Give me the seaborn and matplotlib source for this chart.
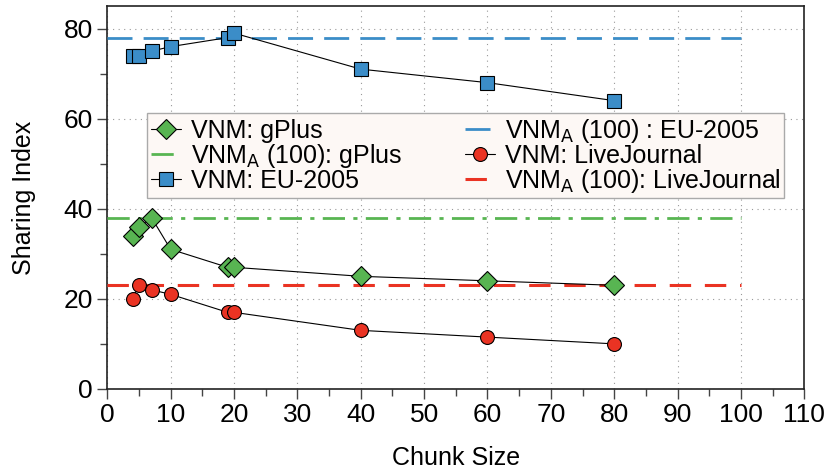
import pandas as pd
import matplotlib
matplotlib.use("Agg")
import matplotlib.pyplot as plt
import seaborn as sns
from matplotlib.ticker import MultipleLocator

chunk = [4, 5, 7, 10, 19, 20, 40, 60, 80]
gplus = [34, 36, 38, 31, 27, 27, 25, 24, 23]
eu2005 = [74, 74, 75, 76, 78, 79, 71, 68, 64]
livejournal = [20, 23, 22, 21, 17, 17, 13, 11.5, 10]

vnma_x = [0, 100]
vnma_gplus = 38
vnma_eu = 78
vnma_lj = 23

green = "#58b552"
blue = "#3b8dc8"
red = "#ea3323"

sns.set_style("ticks")
plt.rcParams['font.family'] = ['Liberation Sans', 'DejaVu Sans']
plt.rcParams['text.color'] = 'black'
plt.rcParams['axes.labelcolor'] = 'black'

df = pd.DataFrame({'chunk': chunk, 'gplus': gplus, 'eu': eu2005, 'lj': livejournal})

fig, ax = plt.subplots(figsize=(8.25, 4.68), dpi=100)
fig.subplots_adjust(left=0.13, right=0.975, top=0.987, bottom=0.169)

ax.grid(True, which='major', linestyle=(0, (1, 4)), color='#999999', linewidth=0.8)

sns.lineplot(data=df, x='chunk', y='gplus', ax=ax, color='black', lw=0.8,
             marker='D', markersize=10, markerfacecolor=green, markeredgecolor='black',
             markeredgewidth=0.8, label='VNM: gPlus', zorder=4)
ax.plot(vnma_x, [vnma_gplus] * 2, color=green, lw=2, ls=(0, (8, 3, 1.5, 3)),
        label=r'VNM$_{\mathrm{A}}$ (100): gPlus', zorder=3)
sns.lineplot(data=df, x='chunk', y='eu', ax=ax, color='black', lw=0.8,
             marker='s', markersize=10, markerfacecolor=blue, markeredgecolor='black',
             markeredgewidth=0.8, label='VNM: EU-2005', zorder=4)
ax.plot(vnma_x, [vnma_eu] * 2, color=blue, lw=2, ls=(0, (9, 4)),
        label=r'VNM$_{\mathrm{A}}$ (100) : EU-2005', zorder=3)
sns.lineplot(data=df, x='chunk', y='lj', ax=ax, color='black', lw=0.8,
             marker='o', markersize=10, markerfacecolor=red, markeredgecolor='black',
             markeredgewidth=0.8, label='VNM: LiveJournal', zorder=4)
ax.plot(vnma_x, [vnma_lj] * 2, color=red, lw=2.2, ls=(0, (7, 4.5)),
        label=r'VNM$_{\mathrm{A}}$ (100): LiveJournal', zorder=3)

ax.set_xlim(0, 110)
ax.set_ylim(0, 85)
ax.xaxis.set_major_locator(MultipleLocator(10))
ax.xaxis.set_minor_locator(MultipleLocator(5))
ax.yaxis.set_major_locator(MultipleLocator(20))
ax.yaxis.set_minor_locator(MultipleLocator(10))
ax.tick_params(which='major', length=7, width=1, labelsize=19, color='#444444',
               labelcolor='black')
ax.tick_params(which='minor', length=5, width=1, color='#444444')
for s in ax.spines.values():
    s.set_color('#222222')
    s.set_linewidth(1.2)

ax.set_xlabel('Chunk Size', fontsize=18, labelpad=13)
ax.set_ylabel('Sharing Index', fontsize=18, labelpad=20)

leg = ax.legend(ncol=2, loc='upper left', bbox_to_anchor=(0.057, 0.72),
                fontsize=18, frameon=True, fancybox=False, handlelength=1.2,
                handletextpad=0.4, labelspacing=-0.05, columnspacing=2.5,
                borderpad=0.15, borderaxespad=0)
leg.get_frame().set_facecolor('#fdf8f5')
leg.get_frame().set_edgecolor('#aaaaaa')
leg.get_frame().set_alpha(1)
leg.set_zorder(10)

fig.savefig('out.png', dpi=100)
